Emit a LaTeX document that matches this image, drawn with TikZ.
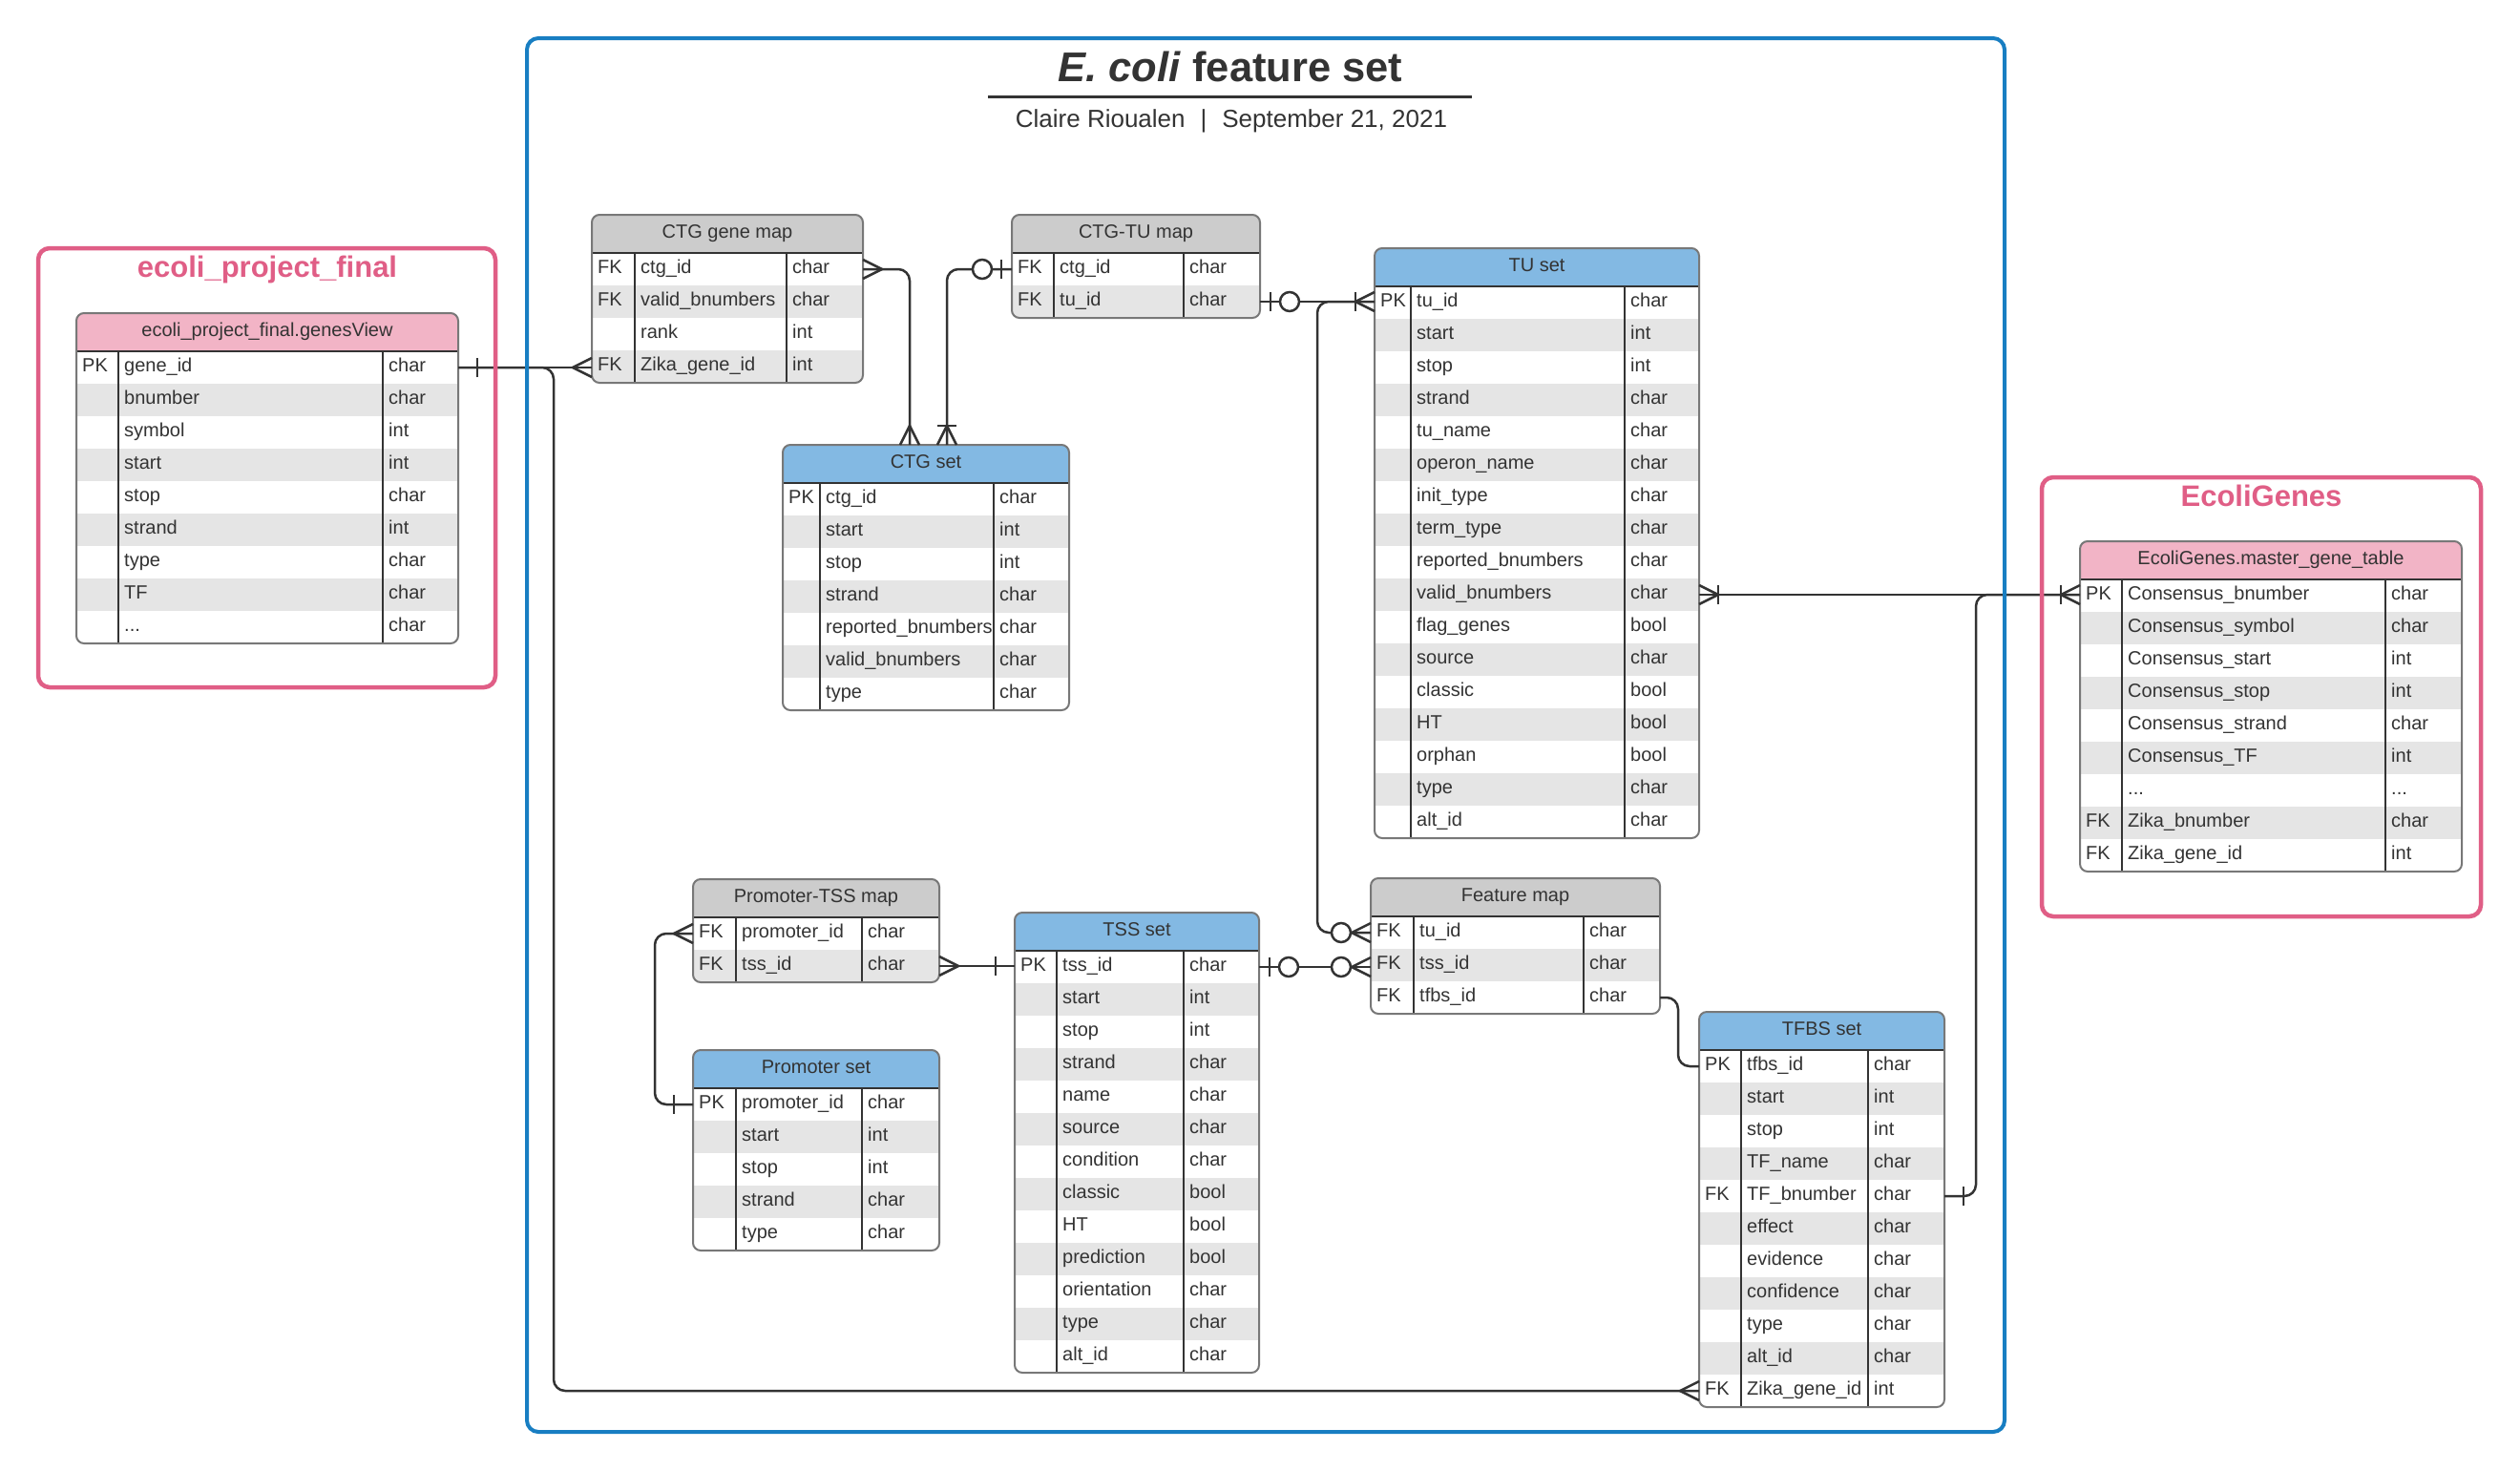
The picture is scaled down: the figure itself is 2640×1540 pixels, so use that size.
\documentclass[tikz,border=0pt]{standalone}
\usepackage{fontspec}
\setmainfont{Liberation Sans}
\usetikzlibrary{calc}
\definecolor{txt}{RGB}{51,51,51}
\definecolor{hblue}{RGB}{131,185,227}
\definecolor{hgray}{RGB}{204,204,204}
\definecolor{hpink}{RGB}{242,180,198}
\definecolor{stripe}{RGB}{229,229,229}
\definecolor{bord}{RGB}{120,120,120}
\definecolor{frameblue}{RGB}{24,126,194}
\definecolor{framepink}{RGB}{224,94,134}
\newcommand{\ellip}{...}
\tikzset{
  conn/.style={draw=txt, line width=2.5pt},
  rowbox/.style={inner sep=0pt, outer sep=0pt, minimum height=34pt},
  celltext/.style={anchor=base west, inner sep=0pt, text=txt, font=\fontsize{20}{24}\selectfont},
  headtext/.style={anchor=base, inner sep=0pt, text=txt, font=\fontsize{20}{24}\selectfont},
  divline/.style={draw=txt, line width=2pt},
  tableframe/.style={draw=bord, line width=2pt, rounded corners=8pt},
  erframe/.style={line width=4.5pt, rounded corners=12pt},
}
% #1 name, #2 x, #3 y, #4 width, #5 col1 offset, #6 col2 offset, #7 header colour, #8 title, #9 rows
\newcommand{\ertable}[9]{%
  \foreach \keyv/\fieldv/\typev [count=\ri] in {#9} {\xdef\nrows{\ri}}%
  \pgfmathsetmacro\tabh{40+34*\nrows}%
  \node[inner sep=0pt, outer sep=0pt, minimum width=#4, minimum height=\tabh, anchor=north west, fill=white, rounded corners=8pt] (#1) at (#2,#3) {};
  \begin{scope}
    \clip[rounded corners=8pt] (#2,#3) rectangle ++(#4,\tabh);
    \fill[#7] (#2,#3) rectangle ++(#4,40);
    \foreach \keyv/\fieldv/\typev [count=\ri] in {#9} {
      \pgfmathsetmacro\ry{#3+40+34*(\ri-1)}
      \pgfmathtruncatemacro\rpar{mod(\ri,2)}
      \ifnum\rpar=0 \fill[stripe] (#2,\ry) rectangle ++(#4,34);\fi
      \node[rowbox, minimum width=#4, anchor=north west] (#1-\ri) at (#2,\ry) {};
      \node[celltext] at (#2+6,\ry+21.5) {\keyv};
      \node[celltext] at (#2+#5+6,\ry+21.5) {\fieldv};
      \node[celltext] at (#2+#6+6,\ry+21.5) {\typev};
    }
  \end{scope}
  \node[headtext] at (#2+#4/2,#3+24.5) {#8};
  \draw[divline] (#2,#3+40) -- ++(#4,0);
  \draw[divline] (#2+#5,#3+40) -- ++(0,\tabh-40);
  \draw[divline] (#2+#6,#3+40) -- ++(0,\tabh-40);
  \draw[tableframe] (#2,#3) rectangle ++(#4,\tabh);
}
% end decorations: #1 point, #2 dx, #3 dy (outward direction), #4 distance
\newcommand{\dmany}[3]{\draw[conn,shift={(#1)}] (10*#3,10*#2) -- (20*#2,20*#3) -- (-10*#3,-10*#2);}
\newcommand{\dbar}[4]{\draw[conn,shift={(#1)}] (#4*#2+10*#3,#4*#3+10*#2) -- (#4*#2-10*#3,#4*#3-10*#2);}
\newcommand{\dcirc}[4]{\draw[conn,fill=white,shift={(#1)}] (#4*#2,#4*#3) circle[radius=10pt];}

\begin{document}
\begin{tikzpicture}[x=1pt,y=-1pt]
\useasboundingbox (0,0) rectangle (2640,1540);
\fill[white] (0,0) rectangle (2640,1540);

% titles
\node[anchor=base, text=txt, font=\fontsize{43.5}{50}\selectfont\bfseries] (title) at (1289,85) {\textit{E. coli} feature set};
\draw[txt, line width=3pt] (1035,101) -- (1542,101);
\node[anchor=base, text=txt, font=\fontsize{26}{30}\selectfont] (subtitle) at (1290,133) {Claire Rioualen\hspace{16pt}|\hspace{16pt}September 21, 2021};
\node[anchor=base, text=framepink, font=\fontsize{31}{36}\selectfont\bfseries] (t1) at (280,290) {ecoli\_project\_final};
\node[anchor=base, text=framepink, font=\fontsize{31}{36}\selectfont\bfseries] (t2) at (2369,530) {EcoliGenes};

% tables
\ertable{gv}{80}{328}{400}{44}{321}{hpink}{ecoli\_project\_final.genesView}{PK/gene\_id/char, /bnumber/char, /symbol/int, /start/int, /stop/char, /strand/int, /type/char, /TF/char, /\ellip/char}
\ertable{cgm}{620}{225}{284}{45}{204}{hgray}{CTG gene map}{FK/ctg\_id/char, FK/valid\_bnumbers/char, /rank/int, FK/Zika\_gene\_id/int}
\ertable{ctu}{1060}{225}{260}{44}{180}{hgray}{CTG-TU map}{FK/ctg\_id/char, FK/tu\_id/char}
\ertable{cgs}{820}{466}{300}{39}{221}{hblue}{CTG set}{PK/ctg\_id/char, /start/int, /stop/int, /strand/char, /reported\_bnumbers/char, /valid\_bnumbers/char, /type/char}
\ertable{tu}{1440}{260}{340}{38}{262}{hblue}{TU set}{PK/tu\_id/char, /start/int, /stop/int, /strand/char, /tu\_name/char, /operon\_name/char, /init\_type/char, /term\_type/char, /reported\_bnumbers/char, /valid\_bnumbers/char, /flag\_genes/bool, /source/char, /classic/bool, /HT/bool, /orphan/bool, /type/char, /alt\_id/char}
\ertable{eg}{2179}{567}{400}{44}{320}{hpink}{EcoliGenes.master\_gene\_table}{PK/Consensus\_bnumber/char, /Consensus\_symbol/char, /Consensus\_start/int, /Consensus\_stop/int, /Consensus\_strand/char, /Consensus\_TF/int, /\ellip/\ellip, FK/Zika\_bnumber/char, FK/Zika\_gene\_id/int}
\ertable{ptm}{726}{921}{258}{45}{177}{hgray}{Promoter-TSS map}{FK/promoter\_id/char, FK/tss\_id/char}
\ertable{ps}{726}{1100}{258}{45}{177}{hblue}{Promoter set}{PK/promoter\_id/char, /start/int, /stop/int, /strand/char, /type/char}
\ertable{tss}{1063}{956}{256}{44}{177}{hblue}{TSS set}{PK/tss\_id/char, /start/int, /stop/int, /strand/char, /name/char, /source/char, /condition/char, /classic/bool, /HT/bool, /prediction/bool, /orientation/char, /type/char, /alt\_id/char}
\ertable{fm}{1436}{920}{303}{45}{223}{hgray}{Feature map}{FK/tu\_id/char, FK/tss\_id/char, FK/tfbs\_id/char}
\ertable{tfbs}{1780}{1060}{257}{44}{177}{hblue}{TFBS set}{PK/tfbs\_id/char, /start/int, /stop/int, /TF\_name/char, FK/TF\_bnumber/char, /effect/char, /evidence/char, /confidence/char, /type/char, /alt\_id/char, FK/Zika\_gene\_id/int}

% routing columns
\coordinate (jA) at (580,0);
\coordinate (jB) at (953,0);
\coordinate (jC) at (992,0);
\coordinate (jD) at (1380,0);
\coordinate (jE) at (2070,0);
\coordinate (jF) at (686,0);
\coordinate (jG) at (1758,0);

% connectors
\draw[conn] (gv-1.east) -- (gv-1.east -| cgm-4.west);
\draw[conn, rounded corners=12pt] (gv-1.east) -| (jA |- tfbs-11.west) -- (tfbs-11.west);
\draw[conn, rounded corners=12pt] (cgm-1.east) -| (cgs.north -| jB);
\draw[conn, rounded corners=12pt] (ctu-1.west) -| (cgs.north -| jC);
\draw[conn] (ctu-2.east) -- (ctu-2.east -| tu.west);
\draw[conn, rounded corners=12pt] (fm-1.west) -| (jD |- ctu-2.east) -- (ctu-2.east -| tu.west);
\draw[conn] (tu-10.east) -- (tu-10.east -| eg-1.west);
\draw[conn, rounded corners=12pt] (tfbs-5.east) -| (jE |- tu-10.east) -- (tu-10.east -| eg-1.west);
\draw[conn, rounded corners=12pt] (ps-1.west) -| (jF |- ptm-1.west) -- (ptm-1.west);
\draw[conn] (ptm-2.east) -- (ptm-2.east -| tss.west);
\draw[conn] (tss-1.east) -- (tss-1.east -| fm.west);
\draw[conn, rounded corners=12pt] (fm-3.east) -| (jG |- tfbs-1.west) -- (tfbs-1.west);

% end marks
\dbar{gv-1.east}{1}{0}{20}
\dmany{gv-1.east -| cgm-4.west}{-1}{0}
\dmany{tfbs-11.west}{-1}{0}
\dmany{cgm-1.east}{1}{0}
\dmany{cgs.north -| jB}{0}{-1}
\dbar{ctu-1.west}{-1}{0}{11}
\dcirc{ctu-1.west}{-1}{0}{31}
\dmany{cgs.north -| jC}{0}{-1}
\dbar{cgs.north -| jC}{0}{-1}{20}
\dbar{ctu-2.east}{1}{0}{11}
\dcirc{ctu-2.east}{1}{0}{31}
\dmany{ctu-2.east -| tu.west}{-1}{0}
\dbar{ctu-2.east -| tu.west}{-1}{0}{20}
\dmany{fm-1.west}{-1}{0}
\dcirc{fm-1.west}{-1}{0}{31}
\dmany{tu-10.east}{1}{0}
\dbar{tu-10.east}{1}{0}{20}
\dmany{tu-10.east -| eg-1.west}{-1}{0}
\dbar{tu-10.east -| eg-1.west}{-1}{0}{20}
\dbar{tfbs-5.east}{1}{0}{20}
\dbar{ps-1.west}{-1}{0}{20}
\dmany{ptm-1.west}{-1}{0}
\dmany{ptm-2.east}{1}{0}
\dbar{ptm-2.east -| tss.west}{-1}{0}{20}
\dbar{tss-1.east}{1}{0}{11}
\dcirc{tss-1.east}{1}{0}{31}
\dmany{tss-1.east -| fm.west}{-1}{0}
\dcirc{tss-1.east -| fm.west}{-1}{0}{31}

% frames
\draw[erframe, draw=frameblue, line width=4pt] (552,40) rectangle (2100,1500);
\draw[erframe, draw=framepink] (40,260) rectangle (519,720);
\draw[erframe, draw=framepink] (2139,500) rectangle (2599,960);
\end{tikzpicture}
\end{document}
